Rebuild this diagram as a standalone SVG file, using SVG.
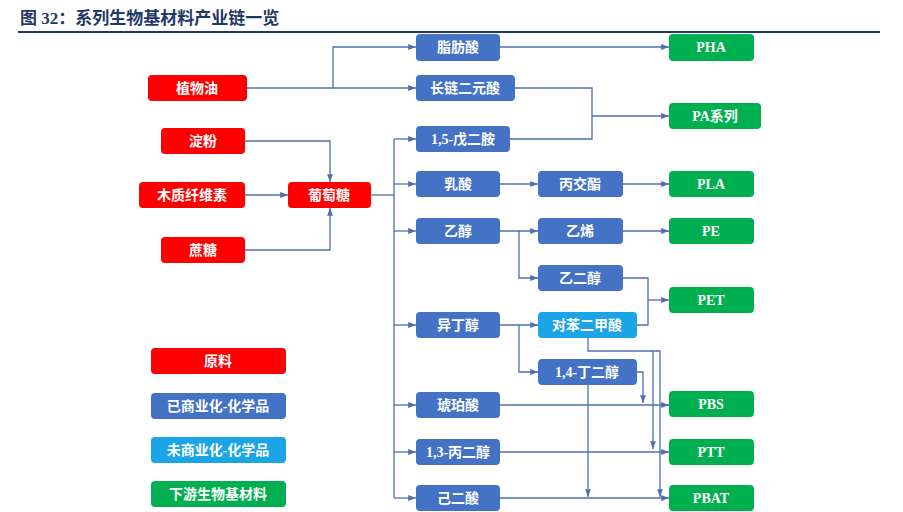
<svg xmlns="http://www.w3.org/2000/svg" width="903" height="512" viewBox="0 0 903 512">
<style>
.n rect{rx:4;ry:4}
.r rect{fill:#FF0000}.b rect{fill:#4472C4}.l rect{fill:#1CA5E6}.g rect{fill:#00B050}
text{font-family:"Liberation Serif","Noto Sans CJK SC",serif;font-weight:bold;font-size:14px;fill:#fff;text-anchor:middle;dominant-baseline:central}
#conn path{fill:none;stroke:#4F6FAE;stroke-width:1.3}
</style>
<defs><marker id="a" viewBox="0 0 8 8" refX="8" refY="4" markerWidth="6" markerHeight="6" orient="auto"><path d="M0,1L8,4L0,7z" fill="#4F6FAE"/></marker></defs>
<rect width="903" height="512" fill="#fff"/>
<text x="20" y="18" style="fill:#1F3864;font-size:17px;text-anchor:start">图 32：系列生物基材料产业链一览</text>
<line x1="18" y1="32" x2="880" y2="32" stroke="#1F3864" stroke-width="2"/>
<g id="conn">
<path d="M247,88H333V47H416" marker-end="url(#a)"/><path d="M333,88H416" marker-end="url(#a)"/>
<path d="M245,141H330V182" marker-end="url(#a)"/><path d="M245,195H288" marker-end="url(#a)"/><path d="M245,250H330V208" marker-end="url(#a)"/>
<path d="M371,195H394"/><path d="M394,139V498"/>
<path d="M394,139H416" marker-end="url(#a)"/><path d="M394,184H416" marker-end="url(#a)"/><path d="M394,231H416" marker-end="url(#a)"/><path d="M394,325H416" marker-end="url(#a)"/><path d="M394,405H416" marker-end="url(#a)"/><path d="M394,452H416" marker-end="url(#a)"/><path d="M394,498H416" marker-end="url(#a)"/>
<path d="M500,47H669" marker-end="url(#a)"/>
<path d="M515,88H592V139H510"/><path d="M592,116H669" marker-end="url(#a)"/>
<path d="M500,184H538" marker-end="url(#a)"/><path d="M623,184H669" marker-end="url(#a)"/>
<path d="M500,231H538" marker-end="url(#a)"/><path d="M519,231V278H538" marker-end="url(#a)"/><path d="M623,231H669" marker-end="url(#a)"/>
<path d="M623,278H648V325H637"/><path d="M648,300H669" marker-end="url(#a)"/>
<path d="M500,325H538" marker-end="url(#a)"/><path d="M519,325V372H538" marker-end="url(#a)"/>
<path d="M588,338V351H660V497" marker-end="url(#a)"/><path d="M653,351V449" marker-end="url(#a)"/>
<path d="M637,372H643V403" marker-end="url(#a)"/><path d="M588,385V497" marker-end="url(#a)"/>
<path d="M500,405H669" marker-end="url(#a)"/><path d="M500,452H669" marker-end="url(#a)"/><path d="M500,498H669" marker-end="url(#a)"/>
</g>
<g id="n-zhiwuyou" class="n r"><rect x="148" y="75" width="99" height="26"/><text x="197" y="88">植物油</text></g>
<g id="n-dianfen" class="n r"><rect x="161" y="128" width="84" height="26"/><text x="203" y="141">淀粉</text></g>
<g id="n-muzhi" class="n r"><rect x="139" y="182" width="106" height="26"/><text x="192" y="195">木质纤维素</text></g>
<g id="n-putaotang" class="n r"><rect x="288" y="182" width="83" height="26"/><text x="329" y="195">葡萄糖</text></g>
<g id="n-zhetang" class="n r"><rect x="161" y="237" width="84" height="26"/><text x="203" y="250">蔗糖</text></g>
<g id="n-zhifangsuan" class="n b"><rect x="416" y="34" width="84" height="27"/><text x="458" y="47">脂肪酸</text></g>
<g id="n-changlian" class="n b"><rect x="416" y="75" width="99" height="26"/><text x="465" y="88">长链二元酸</text></g>
<g id="n-wuerán" class="n b"><rect x="416" y="126" width="94" height="26"/><text x="463" y="139">1,5-戊二胺</text></g>
<g id="n-rusuan" class="n b"><rect x="416" y="171" width="84" height="26"/><text x="458" y="184">乳酸</text></g>
<g id="n-bingjiaozhi" class="n b"><rect x="538" y="171" width="85" height="26"/><text x="580" y="184">丙交酯</text></g>
<g id="n-yichun" class="n b"><rect x="416" y="218" width="84" height="26"/><text x="458" y="231">乙醇</text></g>
<g id="n-yixi" class="n b"><rect x="538" y="218" width="85" height="26"/><text x="580" y="231">乙烯</text></g>
<g id="n-yierchun" class="n b"><rect x="538" y="265" width="85" height="26"/><text x="580" y="278">乙二醇</text></g>
<g id="n-yidingchun" class="n b"><rect x="416" y="312" width="84" height="26"/><text x="458" y="325">异丁醇</text></g>
<g id="n-pta" class="n l"><rect x="538" y="312" width="99" height="26"/><text x="587" y="325">对苯二甲酸</text></g>
<g id="n-bdo" class="n b"><rect x="538" y="359" width="99" height="26"/><text x="587" y="372">1,4-丁二醇</text></g>
<g id="n-hupo" class="n b"><rect x="416" y="392" width="84" height="26"/><text x="458" y="405">琥珀酸</text></g>
<g id="n-pdo" class="n b"><rect x="416" y="439" width="84" height="26"/><text x="458" y="452">1,3-丙二醇</text></g>
<g id="n-jierSuan" class="n b"><rect x="416" y="485" width="84" height="26"/><text x="458" y="498">己二酸</text></g>
<g id="n-pha" class="n g"><rect x="669" y="34" width="85" height="27"/><text x="711" y="47">PHA</text></g>
<g id="n-pa" class="n g"><rect x="669" y="103" width="92" height="26"/><text x="715" y="116">PA系列</text></g>
<g id="n-pla" class="n g"><rect x="669" y="171" width="85" height="26"/><text x="711" y="184">PLA</text></g>
<g id="n-pe" class="n g"><rect x="669" y="218" width="85" height="26"/><text x="711" y="231">PE</text></g>
<g id="n-pet" class="n g"><rect x="669" y="287" width="85" height="26"/><text x="711" y="300">PET</text></g>
<g id="n-pbs" class="n g"><rect x="669" y="391" width="85" height="26"/><text x="711" y="404">PBS</text></g>
<g id="n-ptt" class="n g"><rect x="669" y="439" width="85" height="26"/><text x="711" y="452">PTT</text></g>
<g id="n-pbat" class="n g"><rect x="669" y="485" width="85" height="26"/><text x="711" y="498">PBAT</text></g>
<g id="lg-yuanliao" class="n r"><rect x="151" y="348" width="135" height="26"/><text x="218" y="361">原料</text></g>
<g id="lg-yishang" class="n b"><rect x="151" y="393" width="135" height="26"/><text x="218" y="406">已商业化-化学品</text></g>
<g id="lg-weishang" class="n l"><rect x="151" y="437" width="135" height="26"/><text x="218" y="450">未商业化-化学品</text></g>
<g id="lg-xiayou" class="n g"><rect x="151" y="481" width="135" height="26"/><text x="218" y="494">下游生物基材料</text></g>
</svg>
